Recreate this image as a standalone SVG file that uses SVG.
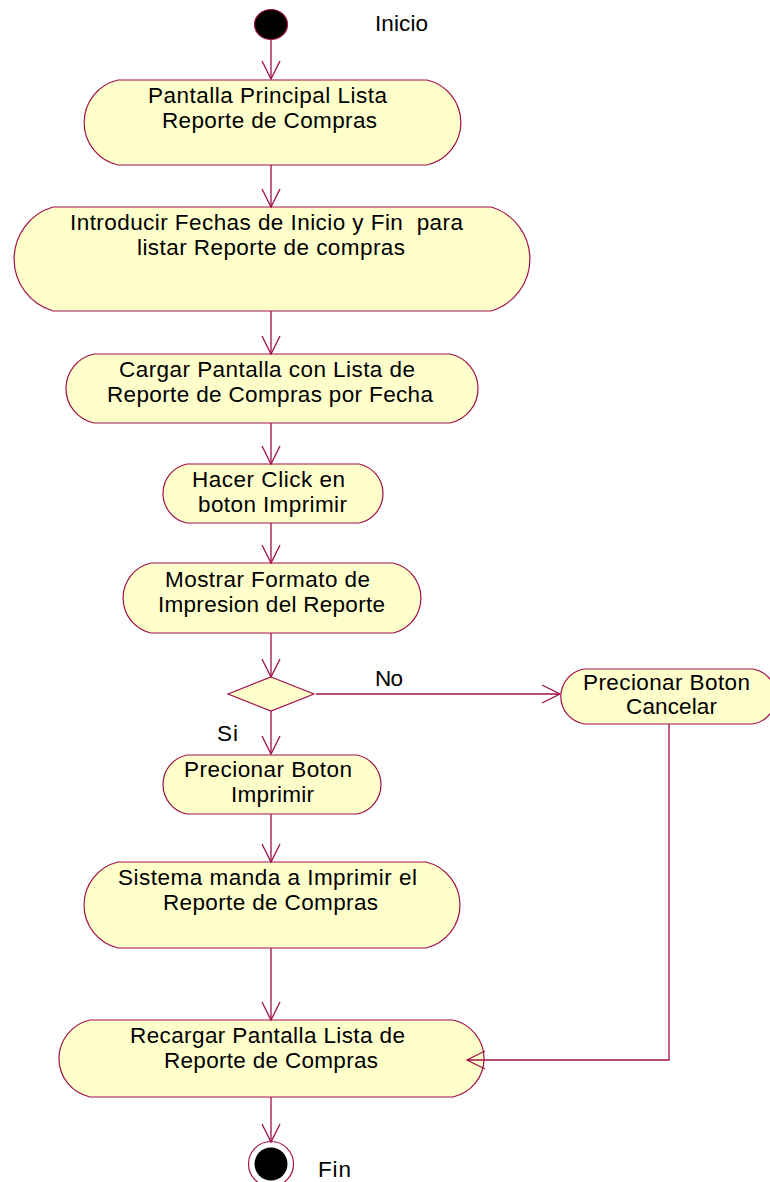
<svg xmlns="http://www.w3.org/2000/svg" width="770" height="1182" viewBox="0 0 770 1182">
<style>
.node{fill:#FFFFCC;stroke:#A0104A;stroke-width:1.2}
.edge{fill:none;stroke:#A0104A;stroke-width:1.3}
text{font-family:"Liberation Sans",Arial,sans-serif;font-size:22.5px;fill:#000}
</style>
<defs>
<marker id="arr" viewBox="-20 -11 22 22" refX="0" refY="0" markerWidth="22" markerHeight="22" markerUnits="userSpaceOnUse" orient="auto">
<path d="M-18,-9 L0,0 L-18,9" fill="none" stroke="#A0104A" stroke-width="1.3"/>
</marker>
</defs>
<rect width="770" height="1182" fill="#fff"/>
<g id="start">
<ellipse cx="271" cy="24.5" rx="16.5" ry="15" fill="#000" stroke="#A0104A" stroke-width="1.2"/>
<text x="375" y="31" textLength="53">Inicio</text>
</g>
<g id="n1">
<path class="node" d="M118,80 H427 A43.6,43.6 0 0 1 427,165 H118 A43.6,43.6 0 0 1 118,80 Z"/>
<text x="148" y="103" textLength="239">Pantalla Principal Lista</text>
<text x="162" y="128" textLength="215">Reporte de Compras</text>
</g>
<g id="n2">
<path class="node" d="M53,207 H491 A54.2,54.2 0 0 1 491,311 H53 A54.2,54.2 0 0 1 53,207 Z"/>
<text x="70" y="230" textLength="393" xml:space="preserve">Introducir Fechas de Inicio y Fin  para</text>
<text x="137" y="255" textLength="268">listar Reporte de compras</text>
</g>
<g id="n3">
<path class="node" d="M94,354 H450 A35.25,35.25 0 0 1 450,423 H94 A35.25,35.25 0 0 1 94,354 Z"/>
<text x="119" y="377" textLength="296">Cargar Pantalla con Lista de</text>
<text x="107" y="402" textLength="326">Reporte de Compras por Fecha</text>
</g>
<g id="n4">
<path class="node" d="M187,464 H359 A30.13,30.13 0 0 1 359,523 H187 A30.13,30.13 0 0 1 187,464 Z"/>
<text x="192" y="487" textLength="153">Hacer Click en</text>
<text x="198" y="512" textLength="149">boton Imprimir</text>
</g>
<g id="n5">
<path class="node" d="M151,563 H393 A35.9,35.9 0 0 1 393,633 H151 A35.9,35.9 0 0 1 151,563 Z"/>
<text x="165" y="587" textLength="205">Mostrar Formato de</text>
<text x="158" y="612" textLength="227">Impresion del Reporte</text>
</g>
<g id="decision">
<polygon class="node" points="271,677 314,694 271,711 228,694"/>
</g>
<g id="n6">
<path class="node" d="M584,669 H753 A27.9,27.9 0 0 1 753,724 H584 A27.9,27.9 0 0 1 584,669 Z"/>
<text x="583" y="690" textLength="167">Precionar Boton</text>
<text x="626" y="714" textLength="91">Cancelar</text>
</g>
<g id="n7">
<path class="node" d="M187,755 H357 A30.13,30.13 0 0 1 357,814 H187 A30.13,30.13 0 0 1 187,755 Z"/>
<text x="184" y="777" textLength="168">Precionar Boton</text>
<text x="231" y="802" textLength="83">Imprimir</text>
</g>
<g id="n8">
<path class="node" d="M118,862 H426 A44.2,44.2 0 0 1 426,948 H118 A44.2,44.2 0 0 1 118,862 Z"/>
<text x="118" y="885" textLength="299">Sistema manda a Imprimir el</text>
<text x="163" y="910" textLength="215">Reporte de Compras</text>
</g>
<g id="n9">
<path class="node" d="M90,1020 H453 A39.4,39.4 0 0 1 453,1097 H90 A39.4,39.4 0 0 1 90,1020 Z"/>
<text x="130" y="1043" textLength="275">Recargar Pantalla Lista de</text>
<text x="164" y="1068" textLength="214">Reporte de Compras</text>
</g>
<g id="end">
<circle cx="271" cy="1164" r="22.5" fill="#fff" stroke="#A0104A" stroke-width="1.2"/>
<circle cx="271" cy="1164" r="16.5" fill="#000"/>
<text x="318" y="1177" textLength="33">Fin</text>
</g>
<g id="connectors">
<path class="edge" d="M271,40 V79" marker-end="url(#arr)"/>
<path class="edge" d="M271,165 V207" marker-end="url(#arr)"/>
<path class="edge" d="M271,311 V354" marker-end="url(#arr)"/>
<path class="edge" d="M271,423 V464" marker-end="url(#arr)"/>
<path class="edge" d="M271,523 V563" marker-end="url(#arr)"/>
<path class="edge" d="M271,633 V677" marker-end="url(#arr)"/>
<path class="edge" d="M316,694 H560" marker-end="url(#arr)"/>
<path class="edge" d="M271,711 V754" marker-end="url(#arr)"/>
<path class="edge" d="M271,814 V862" marker-end="url(#arr)"/>
<path class="edge" d="M271,948 V1020" marker-end="url(#arr)"/>
<path class="edge" d="M669,724 V1060 H467" marker-end="url(#arr)"/>
<path class="edge" d="M271,1097 V1142" marker-end="url(#arr)"/>
<text x="375" y="686" textLength="28">No</text>
<text x="217" y="741" textLength="21">Si</text>
</g>
</svg>
